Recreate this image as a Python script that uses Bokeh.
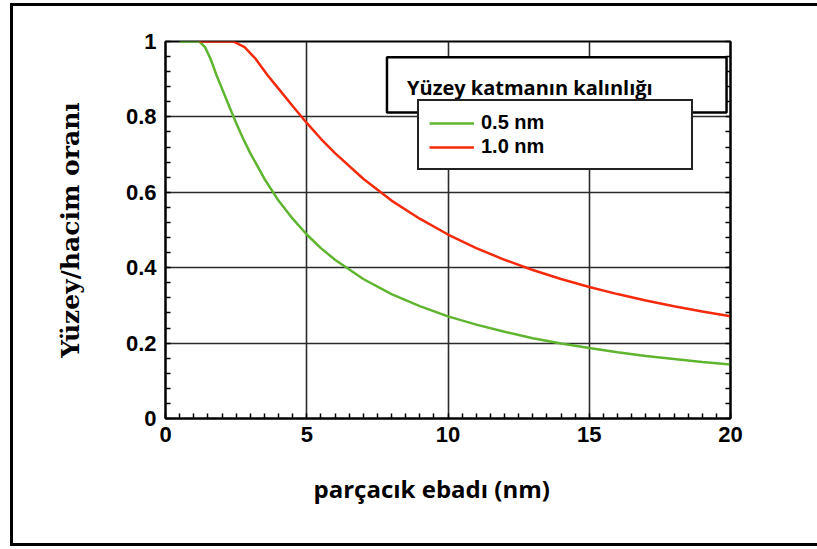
from bokeh.plotting import figure
from bokeh.models import (FixedTicker, LinearAxis, Legend, LegendItem, BoxAnnotation,
                          Label, Range1d, Title)
from bokeh.embed import file_html
from bokeh.resources import INLINE

# ---- data ----
x_green = [0.5, 1.2, 1.4, 1.6, 1.8, 2.0, 2.25, 2.5, 2.75, 3.0, 3.5, 4.0, 4.5, 5.0, 5.5,
           6, 7, 8, 9, 10, 11, 12, 13, 14, 15, 16, 17, 18, 19, 20]
y_green = [1.0, 1.0, 0.985, 0.953, 0.912, 0.875, 0.829, 0.784, 0.742, 0.704, 0.636, 0.578,
           0.530, 0.488, 0.452, 0.421, 0.370, 0.330, 0.298, 0.271, 0.249, 0.230, 0.213,
           0.199, 0.187, 0.176, 0.166, 0.158, 0.150, 0.143]
x_red = [1.2, 2.4, 2.8, 3.2, 3.6, 4.0, 4.5, 5.0, 5.5, 6, 7, 8, 9, 10, 11, 12, 13, 14,
         15, 16, 17, 18, 19, 20]
y_red = [1.0, 1.0, 0.985, 0.953, 0.912, 0.875, 0.829, 0.784, 0.742, 0.704, 0.636, 0.578,
         0.530, 0.488, 0.452, 0.421, 0.394, 0.370, 0.349, 0.330, 0.313, 0.298, 0.284, 0.271]

x_ticks = [0, 5, 10, 15, 20]
x_minor = [0.5 * i for i in range(41)]
y_ticks = [0, 0.2, 0.4, 0.6, 0.8, 1.0]
y_tick_labels = {0: "0", 0.2: "0.2", 0.4: "0.4", 0.6: "0.6", 0.8: "0.8", 1.0: "1"}
y_minor = [0.04 * i for i in range(26)]

series_names = ["0.5 nm", "1.0 nm"]
legend_title = "Yüzey katmanın kalınlığı"
x_title = "parçacık ebadı (nm)"
y_title = "Yüzey/hacim oranı"

GREEN = "#5fb52f"
RED = "#f52a0a"
GRID = "#2b2b2b"

p = figure(width=807, height=543, output_backend="svg", toolbar_location=None,
           x_range=Range1d(0, 20), y_range=Range1d(0, 1),
           min_border_left=152, min_border_right=90, min_border_top=35,
           min_border_bottom=131)
p.styles = {"border-top": "3px solid black", "border-left": "3px solid black",
            "border-bottom": "3px solid black",
            "box-sizing": "border-box", "margin-left": "10px", "margin-top": "3px"}
p.background_fill_color = "white"
p.border_fill_color = "white"
p.outline_line_color = "black"
p.outline_line_width = 2

# axes
p.xaxis.ticker = FixedTicker(ticks=x_ticks, minor_ticks=x_minor)
p.yaxis.ticker = FixedTicker(ticks=y_ticks, minor_ticks=y_minor)
p.yaxis.major_label_overrides = y_tick_labels
for ax in (p.xaxis[0], p.yaxis[0]):
    ax.axis_line_color = "black"
    ax.axis_line_width = 2
    ax.major_tick_in = 0
    ax.major_tick_out = 0
    ax.minor_tick_in = 5
    ax.minor_tick_out = 0
    ax.minor_tick_line_color = "black"
    ax.minor_tick_line_width = 1.5
    ax.major_label_text_font = "Liberation Sans"
    ax.major_label_text_font_style = "bold"
    ax.major_label_text_font_size = "22px"
    ax.major_label_text_color = "black"

p.xaxis.major_label_standoff = 8
p.yaxis.major_label_standoff = 9
p.yaxis.axis_label = y_title
p.yaxis.axis_label_text_font = "DejaVu Serif"
p.yaxis.axis_label_text_font_style = "bold"
p.yaxis.axis_label_text_font_size = "25px"
p.yaxis.axis_label_text_color = "black"
p.yaxis.axis_label_standoff = 38

xt = Title(text=x_title, align="left", offset=148, standoff=50,
           text_font="Open Sans", text_font_style="bold", text_font_size="24px",
           text_color="black")
p.add_layout(xt, "below")

right = LinearAxis(ticker=FixedTicker(ticks=y_ticks, minor_ticks=y_minor),
                   major_label_text_color=None, major_tick_in=0, major_tick_out=0,
                   minor_tick_in=5, minor_tick_out=0, minor_tick_line_color="black",
                   minor_tick_line_width=1.5, axis_line_color="black", axis_line_width=2)
p.add_layout(right, "right")

# grid
for g in (p.xgrid[0], p.ygrid[0]):
    g.grid_line_color = GRID
    g.grid_line_width = 1.6
    g.grid_line_alpha = 1

# curves
rg = p.line(x_green, y_green, line_color=GREEN, line_width=2.5)
rr = p.line(x_red, y_red, line_color=RED, line_width=2.5)

legend = Legend(items=[LegendItem(label=series_names[0], renderers=[rg]),
                       LegendItem(label=series_names[1], renderers=[rr])],
                location=(252, 248), padding=10, spacing=1,
                label_text_font="Liberation Sans", label_text_font_style="bold",
                label_text_font_size="20px", label_text_color="black",
                label_height=20, glyph_height=20, glyph_width=45, label_standoff=7,
                label_width=200, border_line_color="#222222", border_line_width=2,
                border_line_alpha=1,
                background_fill_color="white", background_fill_alpha=1)
p.add_layout(legend, "center")

# overlaid title box
box = BoxAnnotation(left=7.84, right=19.86, bottom=0.812, top=0.958, level="overlay",
                    fill_color="white", fill_alpha=1, line_color="black", line_alpha=1,
                    line_width=2.5)
p.add_layout(box)
lab = Label(x=8.55, y=0.878, text=legend_title, text_font="Open Sans", level="overlay",
            text_font_style="bold", text_font_size="20px", text_color="black",
            text_baseline="middle", text_align="left")
p.add_layout(lab)

open("out.html", "w").write(file_html(p, INLINE))
